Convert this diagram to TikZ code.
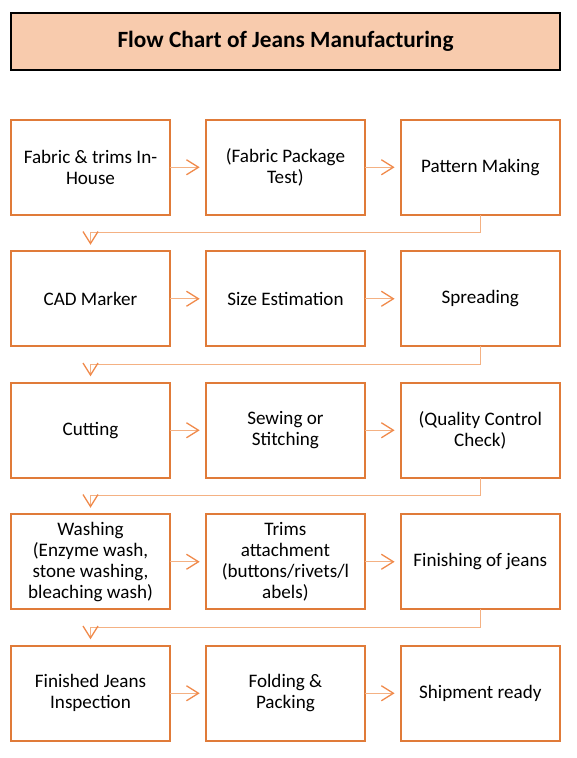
\documentclass[tikz,border=0pt]{standalone}
\usepackage{fontspec}
\setmainfont{Carlito}
\usetikzlibrary{positioning,arrows.meta}
\definecolor{peach}{HTML}{F8CBAD}
\definecolor{boxorange}{HTML}{E07B39}
\definecolor{lineorange}{HTML}{F4B183}
\definecolor{tiporange}{HTML}{F08A4B}
\begin{document}
\begin{tikzpicture}[x=1pt, y=-1pt, node distance=36.5pt]
			\tikzset{b/.style={draw=boxorange, line width=2pt, outer sep=0pt, minimum width=158.4pt, minimum height=95pt, align=center, font=\fontsize{19.1}{21}\selectfont},
			t/.style={draw=black, fill=peach, line width=1.3pt, outer sep=0pt, minimum width=549pt, minimum height=57pt, font=\fontsize{23.3}{26}\selectfont\bfseries},
			f/.style={draw=lineorange, line width=1.3pt, shorten >=6.5pt, -{Straight Barb[length=12pt, width=15pt, color=tiporange, line width=1.3pt]}}};

			\useasboundingbox (0,0) rectangle (576,758);

			\node[t] (title) at (285.5,41.5) {Flow Chart of Jeans Manufacturing};

			\node[b] (fabric) at (90.5,167.25) {Fabric \& trims In-\\House};
			\node[b, right=of fabric] (test) {(Fabric Package\\Test)};
			\node[b, right=of test] (pattern) {Pattern Making};
			\node[b, below=of fabric] (cad) {CAD Marker};
			\node[b, right=of cad] (size) {Size Estimation};
			\node[b, right=of size] (spread) {Spreading};
			\node[b, below=of cad] (cut) {Cutting};
			\node[b, right=of cut] (sew) {Sewing or\\Stitching};
			\node[b, right=of sew] (qc) {(Quality Control\\Check)};
			\node[b, below=of cut] (wash) {Washing\\(Enzyme wash,\\stone washing,\\bleaching wash)};
			\node[b, right=of wash] (trims) {Trims\\attachment\\(buttons/rivets/l\\abels)};
			\node[b, right=of trims] (finish) {Finishing of jeans};
			\node[b, below=of wash] (inspect) {Finished Jeans\\Inspection};
			\node[b, right=of inspect] (fold) {Folding \&\\Packing};
			\node[b, right=of fold] (ship) {Shipment ready};

			\draw[f] (fabric) -- (test);
			\draw[f] (test) -- (pattern);
			\draw[f] (pattern.south) -- ++(0,18) -| (cad.north);
			\draw[f] (cad) -- (size);
			\draw[f] (size) -- (spread);
			\draw[f] (spread.south) -- ++(0,18) -| (cut.north);
			\draw[f] (cut) -- (sew);
			\draw[f] (sew) -- (qc);
			\draw[f] (qc.south) -- ++(0,18) -| (wash.north);
			\draw[f] (wash) -- (trims);
			\draw[f] (trims) -- (finish);
			\draw[f] (finish.south) -- ++(0,18) -| (inspect.north);
			\draw[f] (inspect) -- (fold);
			\draw[f] (fold) -- (ship);
	\end{tikzpicture}
\end{document}
